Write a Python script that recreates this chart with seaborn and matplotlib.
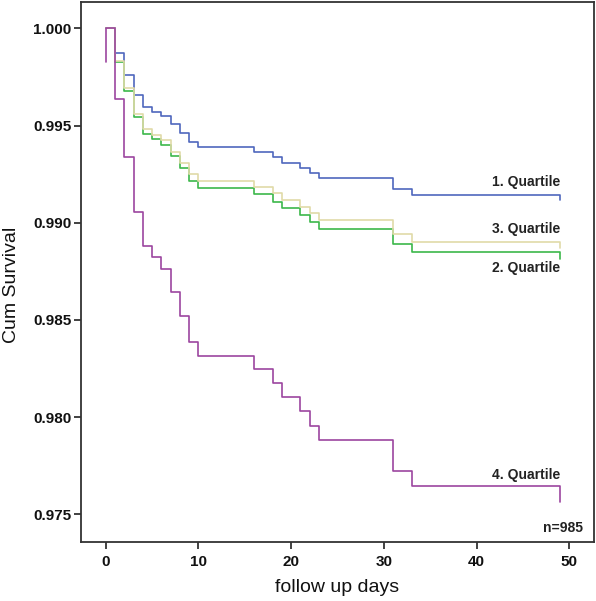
import numpy as np
import pandas as pd
import matplotlib
matplotlib.use("Agg")
import matplotlib.pyplot as plt
import seaborn as sns

# ---- data ----
days = [0, 1, 2, 3, 4, 5, 6, 7, 8, 9, 10, 16, 18, 19, 21, 22, 23, 31, 33, 49]
q1 = [1.0, 0.99872, 0.99761, 0.99658, 0.99594, 0.99572, 0.99550, 0.99507, 0.99461, 0.99417,
      0.99389, 0.99363, 0.99337, 0.99309, 0.99284, 0.99258, 0.99231, 0.99172, 0.99142, 0.99117]
q2 = [1.0, 0.99826, 0.99680, 0.99546, 0.99457, 0.99430, 0.99400, 0.99344, 0.99284, 0.99215,
      0.99181, 0.99147, 0.99109, 0.99075, 0.99040, 0.99006, 0.98967, 0.98889, 0.98848, 0.98812]
q3 = [1.0, 0.99833, 0.99692, 0.99558, 0.99481, 0.99452, 0.99426, 0.99366, 0.99309, 0.99251,
      0.99217, 0.99186, 0.99152, 0.99116, 0.99083, 0.99049, 0.99014, 0.98941, 0.98902, 0.98869]
q4 = [1.0, 0.99637, 0.99337, 0.99057, 0.98881, 0.98823, 0.98764, 0.98642, 0.98521, 0.98385,
      0.98316, 0.98246, 0.98177, 0.98102, 0.98032, 0.97956, 0.97882, 0.97723, 0.97646, 0.97565]
q4_start = 0.99829

groups = ["1. Quartile", "2. Quartile", "3. Quartile", "4. Quartile"]
label_y = [0.99210, 0.98768, 0.98968, 0.97702]
colors = ["#4f67bd", "#3cb84a", "#e0daa8", "#9c45a0"]

yticks = [0.975, 0.980, 0.985, 0.990, 0.995, 1.000]
xticks = [0, 10, 20, 30, 40, 50]

rows = []
for g, vals in zip(groups, [q1, q2, q3, q4]):
    t = list(days)
    v = list(vals)
    if g == "4. Quartile":
        t = [0] + t
        v = [q4_start] + v
    for i, (a, b) in enumerate(zip(t, v)):
        rows.append({"day": a, "surv": b, "group": g, "order": i})
df = pd.DataFrame(rows)

sns.set_style("white")
plt.rcParams["font.family"] = ["Liberation Sans", "DejaVu Sans"]

fig = plt.figure(figsize=(5.96, 6.01), dpi=100)
ax = fig.add_axes([80.7 / 596, 1 - 541.7 / 601, (594 - 80.7) / 596, (541.7 - 2) / 601])

sns.lineplot(data=df, x="day", y="surv", hue="group", hue_order=groups,
             palette=dict(zip(groups, colors)), estimator=None, sort=False,
             drawstyle="steps-post", linewidth=1.2, legend=False, ax=ax)

ax.set_xlim(-2.70, 52.65)
ax.set_ylim(0.97359, 1.00136)
ax.set_xticks(xticks)
ax.set_yticks(yticks)
ax.set_xticklabels([str(x) for x in xticks], fontweight="bold", fontsize=11)
ax.set_yticklabels([f"{y:.3f}" for y in yticks], fontweight="bold", fontsize=11)
ax.tick_params(axis="both", direction="out", length=5, width=1.3, color="#333333",
               labelcolor="#111111", bottom=True, left=True)
ax.tick_params(axis="y", pad=1.5)
ax.tick_params(axis="x", pad=4.5)

for s in ax.spines.values():
    s.set_visible(True)
    s.set_color("#333333")
    s.set_linewidth(1.3)

ax.set_xlabel("follow up days", fontsize=14, color="#111111")
ax.set_ylabel("Cum Survival", fontsize=14, color="#111111")
ax.xaxis.set_label_coords(0.4987, -0.084)
ax.yaxis.set_label_coords(-0.1348, 0.4756)
ax.xaxis.label.set_va("center")
ax.yaxis.label.set_va("center")

for g, ly in zip(groups, label_y):
    ax.text(49, ly, g, ha="right", va="center", fontsize=10, fontweight="bold", color="#222222")
ax.text(51.5, 0.97430, "n=985", ha="right", va="center", fontsize=10, fontweight="bold", color="#222222")

fig.savefig("out.png", dpi=100)
